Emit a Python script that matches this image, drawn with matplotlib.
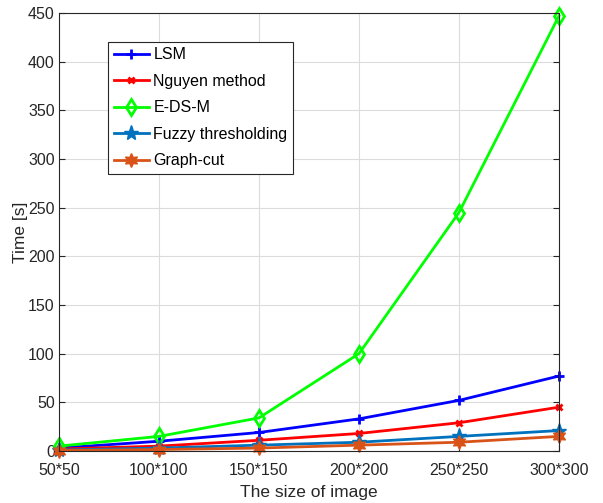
import matplotlib
matplotlib.use('Agg')
import matplotlib.pyplot as plt

plt.rcParams['font.family'] = ['Liberation Sans', 'DejaVu Sans']

sizes = ['50*50', '100*100', '150*150', '200*200', '250*250', '300*300']
lsm = [3, 10, 19, 33, 52, 77]
nguyen = [2, 5, 11, 18, 29, 45]
edsm = [5, 15, 34, 100, 245, 447]
fuzzy = [1, 3, 6, 9, 15, 21]
graphcut = [0.5, 1.5, 3, 6, 9, 15]

x = list(range(len(sizes)))

fig = plt.figure(figsize=(6.03, 5.03), dpi=100)
ax = fig.add_axes([0.0978, 0.1034, 0.8292, 0.8708])

ax.plot(x, lsm, color=(0, 0, 1), lw=2, marker='+', ms=7, mew=2, label='LSM', clip_on=False)
ax.plot(x, nguyen, color=(1, 0, 0), lw=2, marker='x', ms=5, mew=2, label='Nguyen method', clip_on=False)
ax.plot(x, edsm, color=(0, 1, 0), lw=2, marker='d', ms=8, mew=2, mfc='none', label='E-DS-M', clip_on=False)
ax.plot(x, fuzzy, color=(0, 0.447, 0.741), lw=2, marker='*', ms=11, label='Fuzzy thresholding', clip_on=False)
ax.plot(x, graphcut, color=(0.85, 0.325, 0.098), lw=2, marker=(6, 1, 0), ms=10, label='Graph-cut', clip_on=False)

ax.set_xlim(0, 5)
ax.set_ylim(0, 450)
ax.set_xticks(x)
ax.set_xticklabels(sizes)
ax.set_yticks(range(0, 451, 50))
ax.tick_params(direction='in', labelsize=11.5, colors='#262626', right=True, top=False, length=4)
ax.tick_params(axis='x', pad=9)
ax.tick_params(axis='y', pad=3)
for s in ax.spines.values():
    s.set_color('#262626')
ax.grid(True, color='#dcdcdc', lw=0.8)
ax.set_axisbelow(True)

ax.set_xlabel('The size of image', fontsize=12.5, color='#262626', labelpad=5)
ax.set_ylabel('Time [s]', fontsize=12.5, color='#262626', labelpad=0)

leg = ax.legend(loc='upper left', bbox_to_anchor=(0.098, 0.934), fontsize=11.5,
                fancybox=False, framealpha=1, edgecolor='#262626',
                handlelength=2.2, borderpad=0.35, labelspacing=0.72, handletextpad=0.3,
                borderaxespad=0)
leg.get_frame().set_linewidth(0.8)

fig.savefig('out.png', dpi=100)
